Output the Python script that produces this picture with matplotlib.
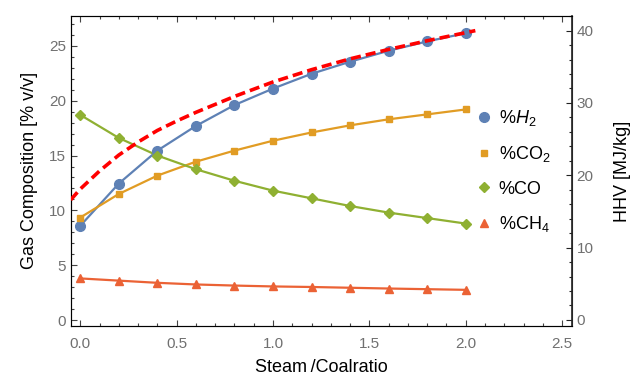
import matplotlib
matplotlib.use("Agg")
import matplotlib.pyplot as plt
from matplotlib.lines import Line2D
from matplotlib.ticker import MultipleLocator, FormatStrFormatter

plt.rcParams['font.family'] = ['Liberation Sans', 'DejaVu Sans']
plt.rcParams['mathtext.fontset'] = 'custom'
plt.rcParams['mathtext.rm'] = 'Liberation Sans'
plt.rcParams['mathtext.it'] = 'Liberation Sans:italic'

# Steam/coal ratio and gas composition (% v/v)
ratio = [0.0, 0.2, 0.4, 0.6, 0.8, 1.0, 1.2, 1.4, 1.6, 1.8, 2.0]
h2 = [8.6, 12.45, 15.45, 17.7, 19.6, 21.1, 22.45, 23.55, 24.55, 25.4, 26.15]
co2 = [9.35, 11.5, 13.17, 14.44, 15.45, 16.35, 17.1, 17.75, 18.3, 18.75, 19.2]
co = [18.7, 16.6, 15.0, 13.75, 12.7, 11.8, 11.1, 10.4, 9.8, 9.3, 8.8]
ch4 = [3.8, 3.6, 3.4, 3.25, 3.15, 3.07, 3.02, 2.95, 2.88, 2.82, 2.76]

# Higher heating value of the product gas (MJ/kg)
hhv_ratio = [-0.05, 0.0, 0.1, 0.2, 0.3, 0.4, 0.5, 0.6, 0.7, 0.8, 1.0, 1.2, 1.4, 1.6, 1.8, 2.05]
hhv = [16.6, 18.1, 20.6, 22.8, 24.6, 26.2, 27.5, 28.7, 29.8, 30.9, 32.9, 34.6, 36.1, 37.4, 38.6, 40.0]

c_h2 = '#5E81B5'
c_co2 = '#E19C24'
c_co = '#8FB032'
c_ch4 = '#EB6235'
tick_gray = '#707070'

fig = plt.figure(figsize=(6.31, 3.76), dpi=100)
ax = fig.add_axes([0.112, 0.134, 0.794, 0.823])
ax2 = ax.twinx()

series = [
    (h2, c_h2, 'o', 7.0, '%$H_2$'),
    (co2, c_co2, 's', 5.0, '%CO$_2$'),
    (co, c_co, 'D', 5.5, '%CO'),
    (ch4, c_ch4, '^', 6.0, '%CH$_4$'),
]
handles = []
for vals, col, mk, ms, lab in series:
    ax.plot(ratio, vals, color=col, lw=1.6, zorder=3)
    ax.plot(ratio, vals, ls='none', marker=mk, ms=ms, color=col, zorder=4)
    handles.append(Line2D([], [], ls='none', marker=mk, ms=ms, color=col, label=lab))

ax2.plot(hhv_ratio, hhv, color='#FF0000', lw=2.6, dashes=(2.8, 1.4), zorder=5)

ax.set_xlim(-0.05, 2.55)
ax.set_ylim(-0.5, 27.7)
ax2.set_ylim(-0.79, 42.0)

ax.xaxis.set_major_locator(MultipleLocator(0.5))
ax.xaxis.set_minor_locator(MultipleLocator(0.1))
ax.yaxis.set_major_locator(MultipleLocator(5))
ax.yaxis.set_minor_locator(MultipleLocator(1))
ax2.yaxis.set_major_locator(MultipleLocator(10))
ax2.yaxis.set_minor_locator(MultipleLocator(2))
ax.xaxis.set_major_formatter(FormatStrFormatter('%.1f'))

ax.tick_params(axis='x', which='both', direction='in', top=True, colors='#444444',
               labelcolor=tick_gray, labelsize=11)
ax.tick_params(axis='y', which='both', direction='in', right=False, colors='#444444',
               labelcolor=tick_gray, labelsize=11)
ax2.tick_params(axis='y', which='both', direction='in', colors='#222222',
                labelcolor=tick_gray, labelsize=11)
for a in (ax, ax2):
    a.tick_params(which='major', length=4, width=0.8)
    a.tick_params(which='minor', length=2, width=0.8)
ax.tick_params(axis='x', which='major', pad=8)
for sp in ax.spines.values():
    sp.set_color('#444444')
ax2.spines['right'].set_color('#222222')
ax2.spines['right'].set_linewidth(1.2)

ax.set_xlabel('Steam\u2009/Coalratio', fontsize=13, labelpad=6)
ax.set_ylabel('Gas Composition [% v/v]', fontsize=13, labelpad=8)
ax2.set_ylabel('HHV [MJ/kg]', fontsize=13, labelpad=15)

ax.legend(handles=handles, loc='upper left', bbox_to_anchor=(468 / 631, 1 - 101 / 376),
          bbox_transform=fig.transFigure, frameon=False, fontsize=13,
          handletextpad=0.3, labelspacing=0.9, handlelength=1.0, borderaxespad=0)

fig.savefig('out.png', dpi=100)
